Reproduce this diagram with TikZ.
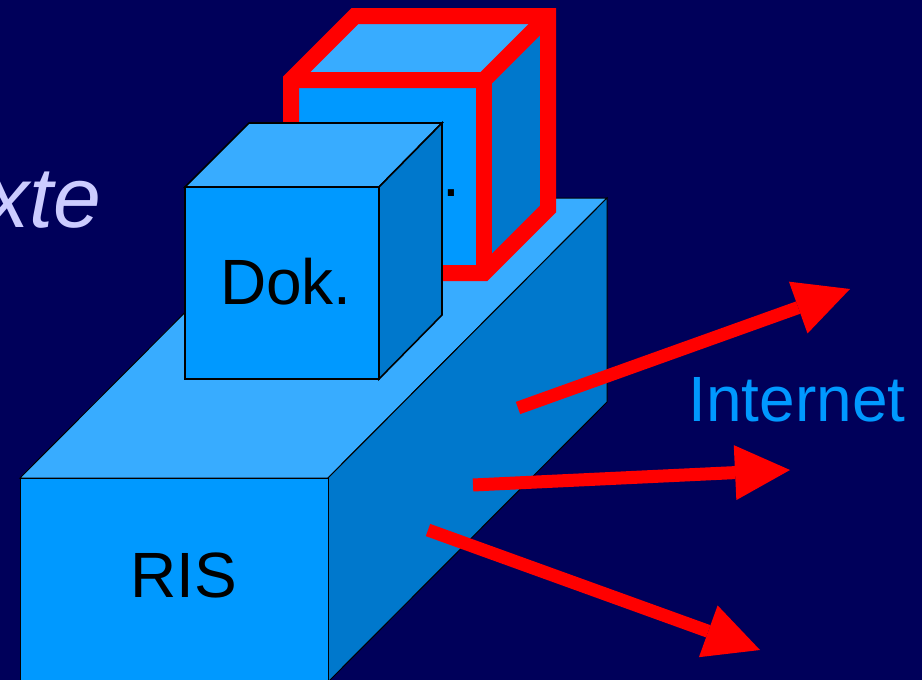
\documentclass[tikz,border=0pt]{standalone}
\usepackage{fontspec}
\setmainfont{Liberation Sans}
\usetikzlibrary{arrows.meta}
\definecolor{bgc}{RGB}{0,0,90}
\definecolor{frontc}{RGB}{0,153,255}
\definecolor{topc}{RGB}{56,172,255}
\definecolor{sidec}{RGB}{0,120,204}
\definecolor{lavc}{RGB}{204,204,255}
\definecolor{redc}{RGB}{255,0,0}
\begin{document}
\begin{tikzpicture}[x=1pt,y=-1pt,
  face/.style={draw=black,line join=miter},
  redline/.style={draw=redc,line width=16pt,line join=miter},
  lbl/.style={font=\fontsize{64}{64}\selectfont, inner sep=0pt, anchor=base},
  bigarrow/.style={draw=redc, line width=13pt, -{Triangle[length=55pt,width=55pt,line width=0pt]}}]
\useasboundingbox (0,0) rectangle (922,680);
\fill[bgc] (0,0) rectangle (922,680);
\clip (0,0) rectangle (922,680);
% title fragment
\node[font=\fontsize{86}{86}\selectfont\itshape, text=lavc, inner sep=0pt, anchor=base east] (title) at (101,227) {Texte};
% RIS box
\filldraw[face, fill=topc, line width=1pt] (20,478) -- (299,198) -- (607,198) -- (328,478) -- cycle;
\filldraw[face, fill=sidec, line width=1pt] (328,478) -- (607,198) -- (607,402) -- (328,682) -- cycle;
\filldraw[face, fill=frontc, line width=1pt] (20,478) rectangle (328,682);
% red-outlined cube
\fill[topc] (291,80) -- (355,16) -- (548,16) -- (484,80) -- cycle;
\fill[sidec] (484,80) -- (548,16) -- (548,209) -- (484,273) -- cycle;
\fill[frontc] (291,80) rectangle (484,273);
\draw[redline] (291,273) -- (291,80) -- (355,16) -- (548,16) -- (548,209) -- (484,273) -- cycle;
\draw[redline] (291,80) -- (484,80) -- (548,16);
\draw[redline] (484,80) -- (484,273);
\node[lbl] (hid) at (451.5,196) {.};
% Dok cube
\filldraw[face, fill=topc, line width=1.6pt] (185,187) -- (249,123) -- (442,123) -- (379,187) -- cycle;
\filldraw[face, fill=sidec, line width=1.6pt] (379,187) -- (442,123) -- (442,315) -- (379,379) -- cycle;
\filldraw[face, fill=frontc, line width=1.6pt] (185,187) rectangle (379,379);
% labels
\node[lbl] (ris) at (184,597) {RIS};
\node[lbl] (dok) at (286,304) {Dok.};
\node[lbl, text=frontc] (inet) at (797,421) {Internet};
% arrows
\coordinate (t1) at (518,408); \coordinate (h1) at (850,289);
\coordinate (t2) at (473,485); \coordinate (h2) at (790,470);
\coordinate (t3) at (428,530); \coordinate (h3) at (760,650);
\draw[bigarrow] (t1) -- (h1);
\draw[bigarrow] (t2) -- (h2);
\draw[bigarrow] (t3) -- (h3);
\end{tikzpicture}
\end{document}
